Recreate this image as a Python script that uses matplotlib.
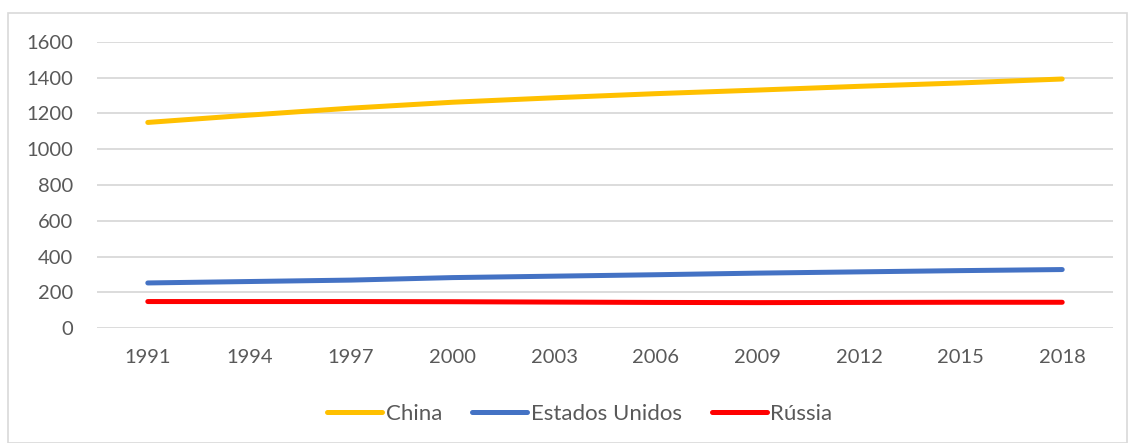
import matplotlib.pyplot as plt
from matplotlib.patches import Rectangle

# population (millions), every 3 years
years = ['1991', '1994', '1997', '2000', '2003', '2006', '2009', '2012', '2015', '2018']
china = [1150, 1191, 1230, 1263, 1288, 1311, 1331, 1352, 1371, 1393]
eua = [252, 260, 268, 282, 290, 298, 307, 314, 321, 327]
russia = [148, 148, 148, 147, 145, 143, 142, 143, 144, 144]

series_names = ['China', 'Estados Unidos', 'Rússia']
series_colors = ['#FFC000', '#4472C4', '#FF0000']

plt.rcParams['font.family'] = ['Lato', 'DejaVu Sans']
text_color = '#595959'

fig = plt.figure(figsize=(11.29, 4.43), dpi=100)
fig.patches.append(Rectangle((8 / 1129, 0), 1119 / 1129, 1 - 13 / 443,
                             transform=fig.transFigure, fill=False,
                             edgecolor='#D9D9D9', linewidth=1.2))

ax = fig.add_axes([97 / 1129, 1 - 328 / 443, 1016 / 1129, 286 / 443])

x = range(len(years))
for name, vals, col in zip(series_names, [china, eua, russia], series_colors):
    ax.plot(x, vals, color=col, linewidth=3.6, solid_capstyle='round',
            solid_joinstyle='round', label=name)

ax.set_xlim(-0.5, len(years) - 0.5)
ax.set_ylim(0, 1600)
ax.set_yticks(range(0, 1601, 200))
ax.set_xticks(list(x))
ax.set_xticklabels(years)
ax.yaxis.grid(True, color='#D9D9D9', linewidth=1.3)
ax.set_axisbelow(True)
for s in ax.spines.values():
    s.set_visible(False)
ax.tick_params(axis='both', length=0, labelsize=14.5, labelcolor=text_color)
ax.tick_params(axis='y', pad=17)
ax.tick_params(axis='x', pad=15)

leg = ax.legend(loc='center', bbox_to_anchor=(0.475, -0.30), ncol=3, frameon=False,
                fontsize=16, handlelength=2.5, handletextpad=0.14,
                columnspacing=1.35)
for t in leg.get_texts():
    t.set_color(text_color)

fig.savefig('out.png', dpi=100)
